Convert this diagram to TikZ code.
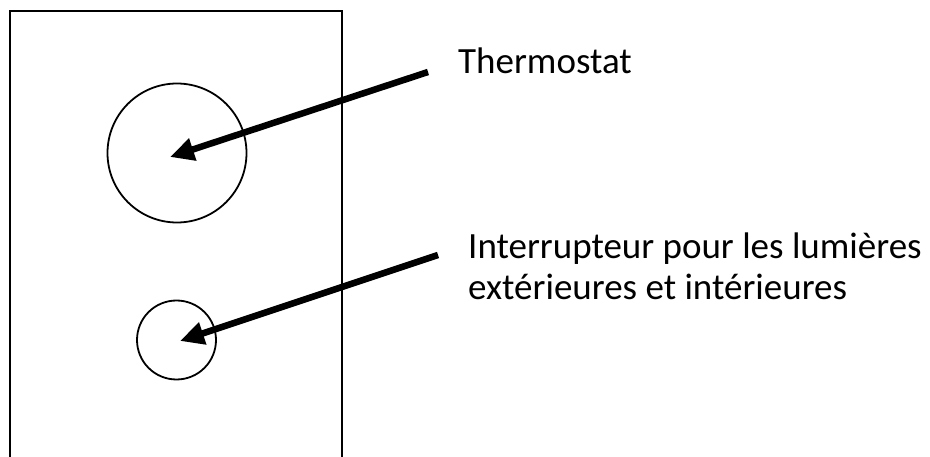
\documentclass[tikz,border=0pt]{standalone}
\usepackage{fontspec}
\setmainfont{Carlito}
\usetikzlibrary{arrows.meta}
\begin{document}
\begin{tikzpicture}[x=1pt,y=-1pt,
  outline/.style={line width=2.2pt},
  ring/.style={circle,draw,line width=1.8pt,inner sep=0pt},
  pointer/.style={line width=6.5pt,-{Triangle[length=24pt,width=22pt]}},
  label/.style={inner sep=0pt,font=\fontsize{37}{41}\selectfont}]
\useasboundingbox (0,0) rectangle (930,457);
\draw[outline] (10,470) -- (10,11) -- (342,11) -- (342,470);
\node[ring,minimum size=139pt] (thermo) at (177,153) {};
\node[ring,minimum size=79pt] (switch) at (176.5,340) {};
\node[label,anchor=base west] (tlabel) at (458,74) {Thermostat};
\node[label,anchor=base west,align=left] (slabel) at (468,300) {Interrupteur pour les lumières\\extérieures et intérieures};
\coordinate (tstart) at (428,72);
\coordinate (ttip) at (170,157);
\coordinate (sstart) at (438,255);
\coordinate (stip) at (180,341);
\draw[pointer] (tstart) -- (ttip);
\draw[pointer] (sstart) -- (stip);
\end{tikzpicture}
\end{document}
